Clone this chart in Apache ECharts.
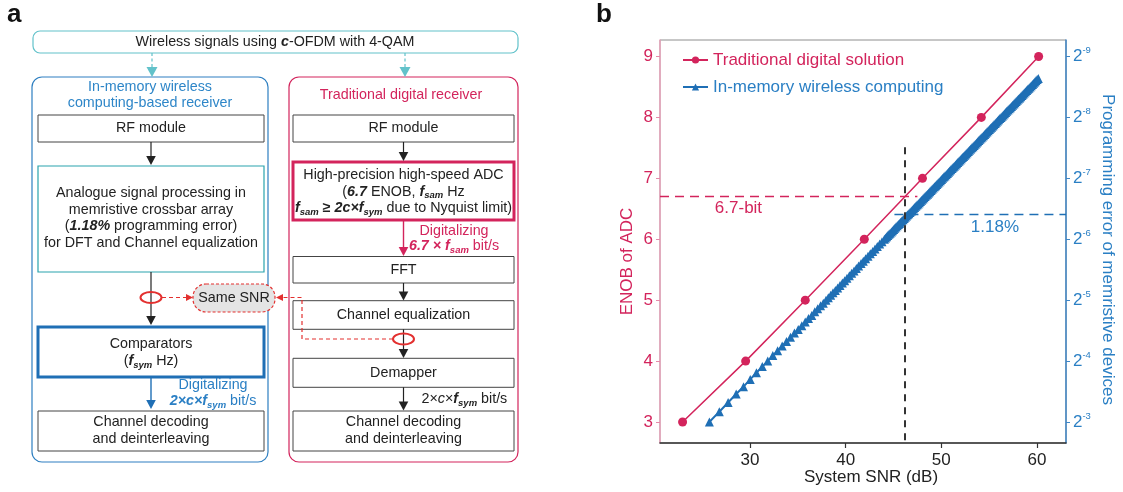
<!DOCTYPE html>
<html><head><meta charset="utf-8">
<script src="https://cdn.jsdelivr.net/npm/echarts@6/dist/echarts.min.js"></script>
<style>html,body{margin:0;padding:0;background:#fff}#c{width:1123px;height:492px}</style>
</head><body><div id="c"></div>
<script>
// ---------------- data ----------------
const snrTraditional = [22.96, 29.55, 35.78, 41.95, 48.03, 54.18, 60.17];
const enobTraditional = [3, 4, 5, 6, 7, 8, 9];
const snrInMemory = [25.76, 26.80, 27.72, 28.56, 29.33, 30.03, 30.68, 31.29, 31.86, 32.39, 32.89, 33.37,
  33.82, 34.24, 34.65, 35.05, 35.42, 35.78, 36.12, 36.46, 36.77, 37.08, 37.38, 37.67,
  37.95, 38.19, 38.44, 38.68, 38.93, 39.17, 39.41, 39.66, 39.90, 40.14, 40.39, 40.63, 40.88, 41.12,
  41.36, 41.61, 41.85, 42.09, 42.34, 42.58, 42.83, 43.07, 43.31, 43.56, 43.80, 44.05,
  44.17, 44.29, 44.41, 44.53, 44.65, 44.78, 44.90, 45.02, 45.14, 45.26, 45.39, 45.51, 45.63, 45.75,
  45.87, 46.00, 46.12, 46.24, 46.36, 46.48, 46.60, 46.73, 46.85, 46.97, 47.09, 47.21, 47.34, 47.46,
  47.58, 47.70, 47.82, 47.95, 48.07, 48.19, 48.31, 48.43, 48.56, 48.68, 48.80, 48.92, 49.04, 49.16,
  49.29, 49.41, 49.53, 49.65, 49.77, 49.90, 50.02, 50.14, 50.26, 50.38, 50.51, 50.63, 50.75, 50.87,
  50.99, 51.12, 51.24, 51.36, 51.48, 51.60, 51.72, 51.85, 51.97, 52.09, 52.21, 52.33, 52.46, 52.58,
  52.70, 52.82, 52.94, 53.07, 53.19, 53.31, 53.43, 53.55, 53.68, 53.80, 53.92, 54.04, 54.16, 54.28,
  54.41, 54.53, 54.65, 54.77, 54.89, 55.02, 55.14, 55.26, 55.38, 55.50, 55.63, 55.75, 55.87, 55.99,
  56.11, 56.24, 56.36, 56.48, 56.60, 56.72, 56.84, 56.97, 57.09, 57.21, 57.33, 57.45, 57.58, 57.70,
  57.82, 57.94, 58.06, 58.19, 58.31, 58.43, 58.55, 58.67, 58.79, 58.92, 59.04, 59.16, 59.28, 59.40,
  59.53, 59.65, 59.77, 59.89, 60.01, 60.14];
const enobInMemory = [3.00, 3.17, 3.32, 3.46, 3.58, 3.70, 3.81, 3.91, 4.00, 4.09, 4.17, 4.25,
  4.32, 4.39, 4.46, 4.52, 4.58, 4.64, 4.70, 4.75, 4.81, 4.86, 4.91, 4.95,
  5.00, 5.04, 5.08, 5.12, 5.16, 5.20, 5.24, 5.28, 5.32, 5.36, 5.40, 5.44, 5.48, 5.52,
  5.56, 5.60, 5.64, 5.68, 5.72, 5.76, 5.80, 5.84, 5.88, 5.92, 5.96, 6.00,
  6.02, 6.04, 6.06, 6.08, 6.10, 6.12, 6.14, 6.16, 6.18, 6.20, 6.22, 6.24, 6.26, 6.28,
  6.30, 6.32, 6.34, 6.36, 6.38, 6.40, 6.42, 6.44, 6.46, 6.48, 6.50, 6.52, 6.54, 6.56,
  6.58, 6.60, 6.62, 6.64, 6.66, 6.68, 6.70, 6.72, 6.74, 6.76, 6.78, 6.80, 6.82, 6.84,
  6.86, 6.88, 6.90, 6.92, 6.94, 6.96, 6.98, 7.00, 7.02, 7.04, 7.06, 7.08, 7.10, 7.12,
  7.14, 7.16, 7.18, 7.20, 7.22, 7.24, 7.26, 7.28, 7.30, 7.32, 7.34, 7.36, 7.38, 7.40,
  7.42, 7.44, 7.46, 7.48, 7.50, 7.52, 7.54, 7.56, 7.58, 7.60, 7.62, 7.64, 7.66, 7.68,
  7.70, 7.72, 7.74, 7.76, 7.78, 7.80, 7.82, 7.84, 7.86, 7.88, 7.90, 7.92, 7.94, 7.96,
  7.98, 8.00, 8.02, 8.04, 8.06, 8.08, 8.10, 8.12, 8.14, 8.16, 8.18, 8.20, 8.22, 8.24,
  8.26, 8.28, 8.30, 8.32, 8.34, 8.36, 8.38, 8.40, 8.42, 8.44, 8.46, 8.48, 8.50, 8.52,
  8.54, 8.56, 8.58, 8.60, 8.62, 8.64];
const xTickValues = [30, 40, 50, 60];
const yTickValues = [3, 4, 5, 6, 7, 8, 9];
const xRange = [20.6, 63.03];
const yRange = [2.656, 9.27];
const adcEnob = 6.7;          // 6.7-bit ADC
const errorEnob = 6.405;      // 1.18 % programming error = 2^-6.405
const crossSnr = 46.2;        // SNR where both solutions meet
const adcLineEnd = 47.5;
const errLineStart = 45.1;
const crossTop = 7.51;

// ---------------- style ----------------
const FONT = '"Liberation Sans", Arial, Helvetica, sans-serif';
const CRIMSON = '#d3245c';
const BLUE = '#1f6fb5';
const BLUE_TXT = '#2a7fc4';
const TEAL = '#62c2ca';
const TEAL_D = '#2aa3ad';
const RED = '#e3302f';
const DK = '#222';
const FS = 14.3;

function rich(fill) {
  return {
    bi: {fontStyle: 'italic', fontWeight: 'bold', fontSize: FS, fontFamily: FONT, fill: fill, lineHeight: 18},
    b: {fontWeight: 'bold', fontSize: FS, fontFamily: FONT, fill: fill, lineHeight: 18},
    i: {fontStyle: 'italic', fontSize: FS, fontFamily: FONT, fill: fill, lineHeight: 18},
    sub: {fontStyle: 'italic', fontWeight: 'bold', fontSize: 9.5, fontFamily: FONT, fill: fill, verticalAlign: 'bottom', lineHeight: 10}
  };
}
function T(x, y, text, fill, extra) {
  fill = fill || DK;
  return {type: 'text', x: x, y: y, z: 20, silent: true,
    style: Object.assign({text: text, fontSize: FS, fontFamily: FONT, fill: fill, align: 'center',
      verticalAlign: 'middle', lineHeight: 18, rich: rich(fill)}, extra || {})};
}
function R(x, y, w, h, stroke, lw, extra) {
  extra = extra || {};
  return {type: 'rect', z: extra.z || 5, silent: true, shape: {x: x, y: y, width: w, height: h, r: extra.r || 0},
    style: {fill: extra.fill || 'rgba(0,0,0,0)', stroke: stroke, lineWidth: lw, lineDash: extra.dash || null}};
}
function vArrow(x, y1, y2, color, lw, dash, hw, hl) {
  hw = hw || 4.8; hl = hl || 9;
  return [
    {type: 'line', z: 6, silent: true, shape: {x1: x, y1: y1, x2: x, y2: y2 - hl + 1},
      style: {stroke: color, lineWidth: lw || 1.2, lineDash: dash || null}},
    {type: 'polygon', z: 6, silent: true, shape: {points: [[x - hw, y2 - hl], [x + hw, y2 - hl], [x, y2]]},
      style: {fill: color}}
  ];
}
function ell(cx, cy) {
  return {type: 'ellipse', z: 8, silent: true, shape: {cx: cx, cy: cy, rx: 10.5, ry: 5.5},
    style: {fill: 'rgba(0,0,0,0)', stroke: RED, lineWidth: 2}};
}

const L = {x: 38, w: 226, c: 151};
const Rt = {x: 293, w: 221, c: 403.5};
const BOX = '#444';

let els = [];
// panel labels
els.push({type: 'text', x: 7, y: 15, style: {text: 'a', fontSize: 26, fontWeight: 'bold', fontFamily: FONT, fill: '#111', align: 'left', verticalAlign: 'middle'}});
els.push({type: 'text', x: 596, y: 15, style: {text: 'b', fontSize: 26, fontWeight: 'bold', fontFamily: FONT, fill: '#111', align: 'left', verticalAlign: 'middle'}});
// top box
els.push(R(33, 31, 485, 22, TEAL, 1.2, {r: 7}));
els.push(T(275, 42, 'Wireless signals using {bi|c}-OFDM with 4-QAM'));
els = els.concat(vArrow(152, 53, 77, TEAL, 1.2, [3, 2.5], 5.5, 10));
els = els.concat(vArrow(405, 53, 77, TEAL, 1.2, [3, 2.5], 5.5, 10));
// outer boxes
els.push(R(32, 77, 236, 385, '#2e7fc1', 1.2, {r: 10}));
els.push(R(289, 77, 229, 385, CRIMSON, 1.2, {r: 10}));
els.push(T(150, 87, 'In-memory wireless', '#2e86c8'));
els.push(T(150, 103, 'computing-based receiver', '#2e86c8'));
els.push(T(401, 95, 'Traditional digital receiver', CRIMSON));

// ---- left column
els.push(R(L.x, 115, L.w, 27, BOX, 1));
els.push(T(L.c, 128.5, 'RF module'));
els = els.concat(vArrow(L.c, 142, 165, DK));
els.push(R(L.x, 166, L.w, 106, TEAL_D, 1.2));
els.push(T(L.c, 193, 'Analogue signal processing in'));
els.push(T(L.c, 210, 'memristive crossbar array'));
els.push(T(L.c, 226.5, '({bi|1.18%} programming error)'));
els.push(T(L.c, 243, 'for DFT and Channel equalization'));
els = els.concat(vArrow(L.c, 272, 325, DK));
els.push(ell(L.c, 297.5));
// dashed red to Same SNR
els.push({type: 'line', z: 7, silent: true, shape: {x1: 162, y1: 297.5, x2: 187, y2: 297.5}, style: {stroke: RED, lineWidth: 1.2, lineDash: [4, 3]}});
els.push({type: 'polygon', z: 7, silent: true, shape: {points: [[186, 294], [186, 301], [193, 297.5]]}, style: {fill: RED}});
els.push(R(193, 284, 82, 28, RED, 1.2, {r: 13, fill: '#e4e4e4', dash: [3, 2], z: 9}));
els.push(T(234, 298, 'Same SNR'));
els.push({type: 'polyline', z: 7, silent: true, shape: {points: [[393, 339], [302, 339], [302, 297.5], [282, 297.5]]}, style: {stroke: RED, lineWidth: 1.2, lineDash: [4, 3], fill: null}});
els.push({type: 'polygon', z: 10, silent: true, shape: {points: [[283, 294], [283, 301], [276, 297.5]]}, style: {fill: RED}});

els.push(R(L.x, 327, L.w, 50, BLUE, 3));
els.push(T(L.c, 344, 'Comparators'));
els.push(T(L.c, 361, '({bi|f}{sub|sym} Hz)'));
els = els.concat(vArrow(L.c, 377, 409, BLUE, 1.4));
els.push(T(213, 385, 'Digitalizing', BLUE_TXT));
els.push(T(213, 401.5, '{bi|2×c×f}{sub|sym} bit/s', BLUE_TXT));
els.push(R(L.x, 411, L.w, 40, BOX, 1));
els.push(T(L.c, 422, 'Channel decoding'));
els.push(T(L.c, 439, 'and deinterleaving'));

// ---- right column
els.push(R(Rt.x, 115, Rt.w, 27, BOX, 1));
els.push(T(Rt.c, 128.5, 'RF module'));
els = els.concat(vArrow(Rt.c, 142, 161, DK));
els.push(R(Rt.x, 162, Rt.w, 58, CRIMSON, 3));
els.push(T(Rt.c, 175, 'High-precision high-speed ADC'));
els.push(T(Rt.c, 191.7, '({bi|6.7} ENOB, {bi|f}{sub|sam} Hz'));
els.push(T(Rt.c, 208, '{bi|f}{sub|sam}{b| ≥ }{bi|2c×f}{sub|sym} due to Nyquist limit)'));
els = els.concat(vArrow(Rt.c, 220, 256, CRIMSON, 1.4));
els.push(T(454, 231, 'Digitalizing', CRIMSON));
els.push(T(454, 246, '{bi|6.7 × f}{sub|sam} bit/s', CRIMSON));
els.push(R(Rt.x, 256.5, Rt.w, 26.5, BOX, 1));
els.push(T(Rt.c, 269.7, 'FFT'));
els = els.concat(vArrow(Rt.c, 283, 300.5, DK));
els.push(R(Rt.x, 300.7, Rt.w, 28.6, BOX, 1));
els.push(T(Rt.c, 315, 'Channel equalization'));
els = els.concat(vArrow(Rt.c, 329.3, 358, DK));
els.push(ell(Rt.c, 339));
els.push(R(Rt.x, 358.3, Rt.w, 29, BOX, 1));
els.push(T(Rt.c, 373, 'Demapper'));
els = els.concat(vArrow(Rt.c, 387.3, 410.5, DK));
els.push(T(421.5, 399.3, '2×{i|c}×{bi|f}{sub|sym} bit/s', DK, {align: 'left'}));
els.push(R(Rt.x, 411, Rt.w, 40, BOX, 1));
els.push(T(Rt.c, 422, 'Channel decoding'));
els.push(T(Rt.c, 439, 'and deinterleaving'));

// ---------------- chart ----------------
const tradData = snrTraditional.map((x, i) => [x, enobTraditional[i]]);
const memData = snrInMemory.map((x, i) => [x, enobInMemory[i]]);
const CF = 17;

const option = {
  animation: false,
  backgroundColor: '#fff',
  textStyle: {fontFamily: FONT},
  grid: {left: 660, right: 57, top: 40, bottom: 49, show: true, borderColor: '#8e8e8e', borderWidth: 1,
    containLabel: false, outerBoundsMode: 'none'},
  legend: {
    orient: 'vertical', left: 677, top: 46, itemWidth: 25, itemHeight: 9, itemGap: 9,
    textStyle: {fontSize: CF, fontFamily: FONT, lineHeight: 18},
    data: [
      {name: 'Traditional digital solution', textStyle: {color: CRIMSON}},
      {name: 'In-memory wireless computing', textStyle: {color: BLUE_TXT}}
    ]
  },
  xAxis: {
    type: 'value', min: xRange[0], max: xRange[1],
    name: 'System SNR (dB)', nameLocation: 'middle', nameGap: 26, nameMoveOverlap: false,
    nameTextStyle: {fontSize: CF, fontFamily: FONT, color: DK, padding: [0, 0, 0, 16]},
    axisLine: {show: true, onZero: false, lineStyle: {color: '#333', width: 1.5}},
    axisTick: {show: true, inside: false, length: 5, customValues: xTickValues, lineStyle: {color: '#333', width: 1.2}},
    axisLabel: {customValues: xTickValues, fontSize: CF, fontFamily: FONT, color: DK, margin: 9},
    splitLine: {show: false}
  },
  yAxis: [
    {
      type: 'value', min: yRange[0], max: yRange[1], position: 'left',
      name: 'ENOB of ADC', nameLocation: 'middle', nameGap: 24, nameMoveOverlap: false,
      nameTextStyle: {fontSize: CF, fontFamily: FONT, color: CRIMSON, padding: [0, 40, 0, 0]},
      axisLine: {show: true, onZero: false, lineStyle: {color: '#eaa3bb', width: 1.5}},
      axisTick: {show: true, length: 4, customValues: yTickValues, lineStyle: {color: '#e58aa9', width: 1}},
      axisLabel: {customValues: yTickValues, fontSize: CF, fontFamily: FONT, color: CRIMSON, margin: 7},
      splitLine: {show: false}
    },
    {
      type: 'value', min: yRange[0], max: yRange[1], position: 'right',
      name: 'Programming error of memristive devices', nameLocation: 'middle', nameGap: 33, nameRotate: -90,
      nameMoveOverlap: false,
      nameTextStyle: {fontSize: CF, fontFamily: FONT, color: BLUE_TXT, padding: [0, 0, 0, 16]},
      axisLine: {show: true, onZero: false, lineStyle: {color: '#3f86c6', width: 1.5}},
      axisTick: {show: true, length: 4, customValues: yTickValues, lineStyle: {color: '#3f86c6', width: 1}},
      axisLabel: {
        customValues: yTickValues, margin: 7,
        formatter: v => '{b|2}{s|-' + v + '}',
        rich: {
          b: {fontSize: CF, fontFamily: FONT, color: BLUE_TXT, lineHeight: 22},
          s: {fontSize: 9.5, fontFamily: FONT, color: BLUE_TXT, verticalAlign: 'top', lineHeight: 10}
        }
      },
      splitLine: {show: false}
    }
  ],
  series: [
    {
      name: 'Traditional digital solution', type: 'line', data: tradData,
      symbol: 'circle', symbolSize: 9, showAllSymbol: true,
      lineStyle: {color: CRIMSON, width: 1.5}, itemStyle: {color: CRIMSON},
      emphasis: {disabled: true}, z: 3,
      markLine: {
        silent: true, symbol: ['none', 'none'], label: {show: false}, emphasis: {disabled: true},
        data: [
          [{coord: [xRange[0], adcEnob], lineStyle: {color: CRIMSON, type: [9, 6], width: 1.3}}, {coord: [adcLineEnd, adcEnob]}],
          [{coord: [errLineStart, errorEnob], lineStyle: {color: BLUE, type: [9, 6], width: 1.3}}, {coord: [xRange[1], errorEnob]}],
          [{coord: [crossSnr, crossTop], lineStyle: {color: '#333', type: [7, 6], width: 2}}, {coord: [crossSnr, yRange[0]]}]
        ]
      },
      markPoint: {
        silent: true, symbol: 'rect', symbolSize: 1, itemStyle: {color: 'rgba(0,0,0,0)'},
        data: [
          {coord: [28.8, 6.51], label: {show: true, position: 'inside', formatter: '6.7-bit', color: CRIMSON, fontSize: CF, fontFamily: FONT}},
          {coord: [55.6, 6.19], label: {show: true, position: 'inside', formatter: '1.18%', color: BLUE_TXT, fontSize: CF, fontFamily: FONT}}
        ]
      }
    },
    {
      name: 'In-memory wireless computing', type: 'line', data: memData,
      symbol: 'triangle', symbolSize: 9, showAllSymbol: true,
      lineStyle: {color: BLUE, width: 2}, itemStyle: {color: BLUE},
      emphasis: {disabled: true}, z: 4
    }
  ],
  graphic: {elements: els}
};

const chart = echarts.init(document.getElementById('c'), null, {renderer: 'canvas'});
chart.setOption(option);
</script>
</body></html>
